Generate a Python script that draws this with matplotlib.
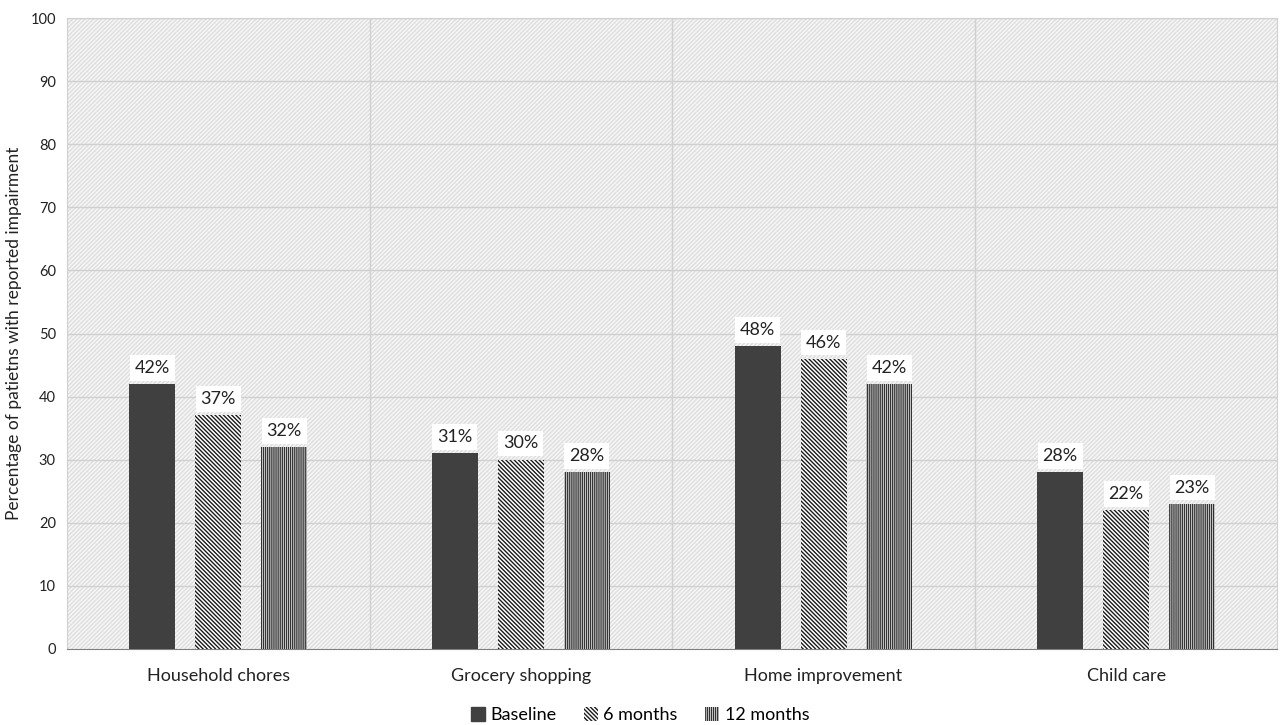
import matplotlib
matplotlib.use("Agg")
import matplotlib.pyplot as plt
import numpy as np
from matplotlib.patches import Rectangle, Patch

categories = ["Household chores", "Grocery shopping", "Home improvement", "Child care"]
series_names = ["Baseline", "6 months", "12 months"]
baseline = [42, 31, 48, 28]
six_months = [37, 30, 46, 22]
twelve_months = [32, 28, 42, 23]
yticks = [0, 10, 20, 30, 40, 50, 60, 70, 80, 90, 100]

plt.rcParams['font.family'] = ['Lato', 'DejaVu Sans']
plt.rcParams['hatch.linewidth'] = 1.0

fig = plt.figure(figsize=(12.8, 7.25), dpi=100)
ax = fig.add_axes([0.0523, 0.105, 0.9457, 0.870])

# hatched background
bg = Rectangle((0, 0), 1, 1, transform=ax.transAxes, facecolor='#f6f6f6',
               edgecolor='#dedede', hatch='////////', linewidth=0, zorder=0)
ax.add_patch(bg)
ax.set_facecolor('white')

x = np.arange(len(categories))
w = 0.152
off = 0.218
hatch6 = '\\' * 8
hatch12 = '|' * 8
styles = [
    dict(color='#404040', hatch=None, edgecolor='#404040'),
    dict(color='white', hatch=hatch6, edgecolor='#1a1a1a'),
    dict(color='white', hatch=hatch12, edgecolor='#333333'),
]
data = [baseline, six_months, twelve_months]
for i, (vals, st) in enumerate(zip(data, styles)):
    pos = x + (i - 1) * off
    ax.bar(pos, vals, width=w, color=st['color'], hatch=st['hatch'],
           edgecolor=st['edgecolor'], linewidth=0, zorder=3, label=series_names[i])
    for p, v in zip(pos, vals):
        ax.text(p, v + 1.3, f"{v}%", ha='center', va='bottom', fontsize=13,
                color='#222222', zorder=5,
                bbox=dict(facecolor='white', edgecolor='none', pad=3.5))

ax.set_xlim(-0.5, len(categories) - 0.5)
ax.set_ylim(0, 100)
ax.set_yticks(yticks)
ax.set_yticklabels([str(t) for t in yticks], fontsize=10.5)
ax.set_xticks(x)
ax.set_xticklabels(categories, fontsize=13)
ax.tick_params(axis='both', length=0, pad=8, colors='#222222')
ax.tick_params(axis='x', pad=14)

for t in yticks[1:]:
    ax.axhline(t, color='#d0d0d0', linewidth=1.0, zorder=1)
for b in np.arange(0.5, len(categories) - 0.5, 1.0):
    ax.axvline(b, color='#d0d0d0', linewidth=1.0, zorder=1)

for s in ['top', 'right']:
    ax.spines[s].set_color('#d0d0d0')
ax.spines['left'].set_color('#d0d0d0')
ax.spines['bottom'].set_color('#808080')

ax.set_ylabel("Percentage of patietns with reported impairment", fontsize=12.5, color='#222222', labelpad=6)

handles = [
    Patch(facecolor='#404040', edgecolor='#404040', label='Baseline'),
    Patch(facecolor='white', edgecolor='#1a1a1a', hatch=hatch6, linewidth=0, label='6 months'),
    Patch(facecolor='white', edgecolor='#333333', hatch=hatch12, linewidth=0, label='12 months'),
]
fig.legend(handles=handles, loc='center', bbox_to_anchor=(0.5, 0.014), ncol=3, frameon=False,
           fontsize=13, handlelength=0.8, handleheight=0.8, handletextpad=0.3, columnspacing=1.5)

fig.savefig("out.png", dpi=100)
